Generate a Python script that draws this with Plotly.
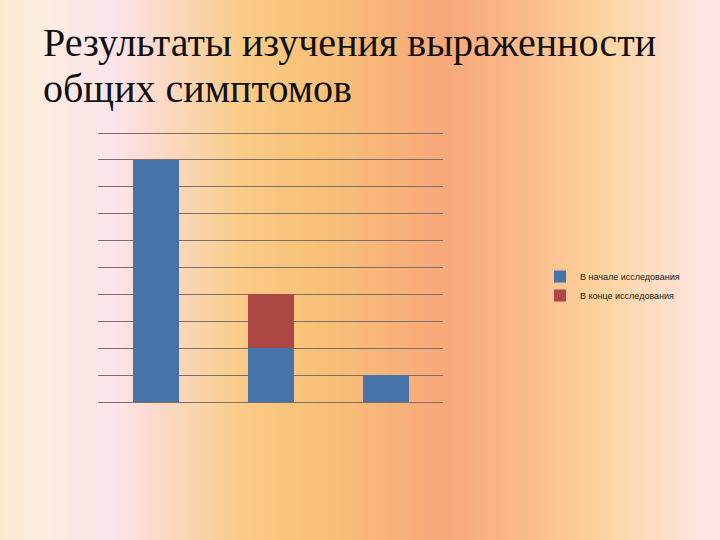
import plotly.graph_objects as go

categories = ["Категория 1", "Категория 2", "Категория 3"]
start_values = [9, 2, 1]
end_values = [0, 2, 0]
series_names = ["В начале исследования", "В конце исследования"]
title_lines = ["Результаты изучения выраженности", "общих симптомов"]

W, H = 720, 540
Y_TOP = 10.15
L, R, B = 98, 443, 402
T = B - (B - 133) * Y_TOP / 10

# background gradient stops (pixel x, rgb)
stops = [
    (0, (253, 235, 208)), (50, (252, 236, 226)), (115, (252, 228, 234)),
    (165, (250, 217, 196)), (240, (250, 204, 136)), (300, (249, 195, 122)),
    (360, (248, 185, 120)), (440, (248, 168, 122)), (520, (250, 185, 138)),
    (600, (252, 212, 158)), (660, (252, 222, 196)), (700, (253, 228, 225)),
    (720, (253, 230, 230)),
]

def color_at(px):
    for (x0, c0), (x1, c1) in zip(stops[:-1], stops[1:]):
        if x0 <= px <= x1:
            t = (px - x0) / (x1 - x0)
            return "rgb(%d,%d,%d)" % tuple(round(a + (b - a) * t) for a, b in zip(c0, c1))
    return "rgb(%d,%d,%d)" % stops[-1][1]

def px_to_xp(px):
    return (px - L) / (R - L)

def py_to_yp(py):
    return (B - py) / (B - T)

shapes = []
step = 3
for px in range(0, W, step):
    shapes.append(dict(type="rect", xref="paper", yref="paper",
                       x0=px_to_xp(px), x1=px_to_xp(px + step + 0.5),
                       y0=py_to_yp(H + 5), y1=py_to_yp(-5),
                       fillcolor=color_at(px + step / 2), line=dict(width=0),
                       layer="below"))

fig = go.Figure()
fig.add_trace(go.Bar(x=categories, y=start_values, name=series_names[0], legendgroup="a",
                     marker=dict(color="#4673A8", line=dict(width=0)), width=0.4))
fig.add_trace(go.Bar(x=categories, y=end_values, name=series_names[1], legendgroup="b",
                     marker=dict(color="#AC4744", line=dict(width=0)), width=0.4))

annotations = [
    dict(text=title_lines[0], xref="paper", yref="paper", x=px_to_xp(41), y=py_to_yp(67),
         xanchor="left", yanchor="bottom", showarrow=False,
         font=dict(family="Liberation Serif", size=40, color="#111111")),
    dict(text=title_lines[1], xref="paper", yref="paper", x=px_to_xp(41), y=py_to_yp(113),
         xanchor="left", yanchor="bottom", showarrow=False,
         font=dict(family="Liberation Serif", size=40, color="#111111")),
]

fig.update_layout(
    width=W, height=H,
    margin=dict(l=L, r=W - R, t=T, b=H - B, autoexpand=False),
    paper_bgcolor="rgb(253,235,208)", plot_bgcolor="rgba(0,0,0,0)",
    barmode="stack", bargap=0.6,
    shapes=shapes, annotations=annotations,
    showlegend=True,
    legend=dict(x=px_to_xp(540), y=py_to_yp(262), xanchor="left", yanchor="top",
                traceorder="normal", bgcolor="rgba(0,0,0,0)", tracegroupgap=4,
                font=dict(family="Liberation Sans", size=9, color="#222222"),
                itemwidth=30),
)
fig.update_xaxes(showticklabels=False, showgrid=False, zeroline=False, showline=False,
                 ticks="")
fig.update_yaxes(range=[0, Y_TOP], dtick=1, showticklabels=False, showgrid=True,
                 gridcolor="#7d6f66", gridwidth=1, zeroline=True, zerolinecolor="#7d6f66",
                 zerolinewidth=1, showline=False, ticks="")

fig.write_html("out.html", config={"displayModeBar": False},
               post_script="document.body.style.margin='0';document.body.style.padding='0';")
